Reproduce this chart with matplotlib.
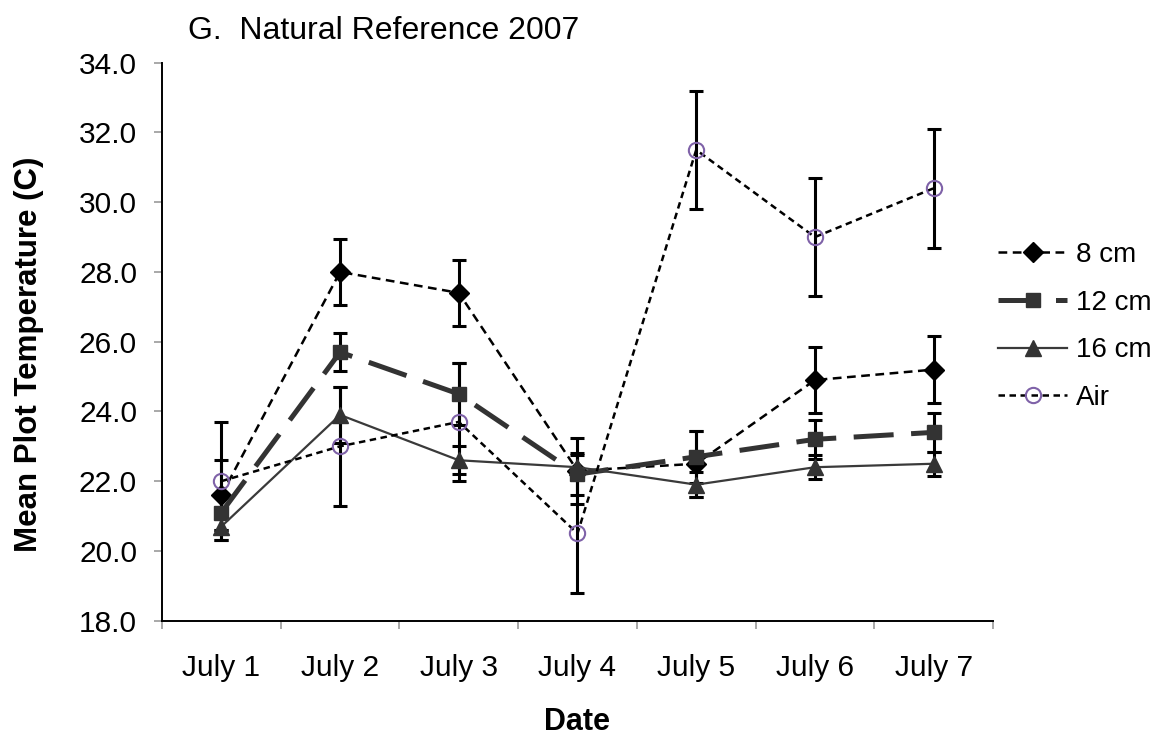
import numpy as np
import matplotlib
matplotlib.use('Agg')
import matplotlib.pyplot as plt
from matplotlib.ticker import FormatStrFormatter

dates = ['July 1', 'July 2', 'July 3', 'July 4', 'July 5', 'July 6', 'July 7']

t8 = [21.6, 28.0, 27.4, 22.3, 22.5, 24.9, 25.2]
t8_err = [1.0, 0.95, 0.95, 0.95, 0.95, 0.95, 0.95]
t12 = [21.1, 25.7, 24.5, 22.2, 22.7, 23.2, 23.4]
t12_err = [0.5, 0.55, 0.9, 0.6, 0.75, 0.55, 0.55]
t16 = [20.7, 23.9, 22.6, 22.4, 21.9, 22.4, 22.5]
t16_err = [0.4, 0.8, 0.4, 0.35, 0.35, 0.35, 0.35]
air = [22.0, 23.0, 23.7, 20.5, 31.5, 29.0, 30.4]
air_err = [1.7, 1.7, 1.7, 1.7, 1.7, 1.7, 1.7]

plt.rcParams['font.family'] = ['Liberation Sans', 'DejaVu Sans']

fig = plt.figure(figsize=(11.58, 7.38), dpi=100)
ax = fig.add_axes([0.1399, 0.159, 0.7176, 0.756])

x = np.arange(len(dates))

# error bars first, lines with markers on top
for vals, errs in [(t8, t8_err), (t12, t12_err), (t16, t16_err), (air, air_err)]:
    ax.errorbar(x, vals, yerr=errs, fmt='none', ecolor='black',
                elinewidth=2.2, capsize=5, capthick=2.2, zorder=2)

ax.plot(x, t8, color='black', ls=(0, (3.5, 2.2)), lw=1.8, marker='D', ms=10,
        mfc='black', mec='black', label='8 cm', zorder=3)
ax.plot(x, t12, color='#333333', ls=(0, (8, 3.5)), lw=3.6, marker='s', ms=10,
        mfc='#333333', mec='#333333', label='12 cm', zorder=3)
ax.plot(x, t16, color='#3a3a3a', ls='-', lw=1.6, marker='^', ms=11,
        mfc='#333333', mec='#333333', label='16 cm', zorder=3)
ax.plot(x, air, color='black', ls=(0, (2.6, 1.8)), lw=1.8, marker='o', ms=11,
        mfc='none', mec='#7F62A8', mew=1.5, label='Air', zorder=3)

ax.set_xlim(-0.5, len(dates) - 0.5)
ax.set_ylim(18, 34)
ax.set_yticks(np.arange(18, 34.1, 2))
ax.yaxis.set_major_formatter(FormatStrFormatter('%.1f'))
ax.set_xticks(x)
ax.set_xticklabels(dates)
ax.set_xticks(np.arange(-0.5, len(dates), 1), minor=True)
ax.tick_params(axis='x', which='major', length=0, labelsize=21.5, pad=24)
ax.tick_params(axis='x', which='minor', length=6, color='#999999', width=1.2)
ax.tick_params(axis='y', length=6, color='#999999', width=1.2, labelsize=21.5, pad=12)
for s in ['top', 'right']:
    ax.spines[s].set_visible(False)
ax.spines['left'].set_linewidth(1.4)
ax.spines['bottom'].set_linewidth(1.4)

ax.set_xlabel('Date', fontsize=22, fontweight='bold', labelpad=18)
ax.set_ylabel('Mean Plot Temperature (C)', fontsize=22.5, fontweight='bold')
ax.yaxis.set_label_coords(-0.142, 0.477)
fig.text(188 / 1158, 1 - 39 / 738, 'G.  Natural Reference 2007', fontsize=23, va='baseline')

fig.legend(loc='upper left', bbox_to_anchor=(998 / 1158, 1 - 242 / 738), frameon=False,
           fontsize=20, handlelength=2.5, handletextpad=0.3, labelspacing=0.78,
           borderpad=0, borderaxespad=0)

fig.savefig('out.png', dpi=100)
